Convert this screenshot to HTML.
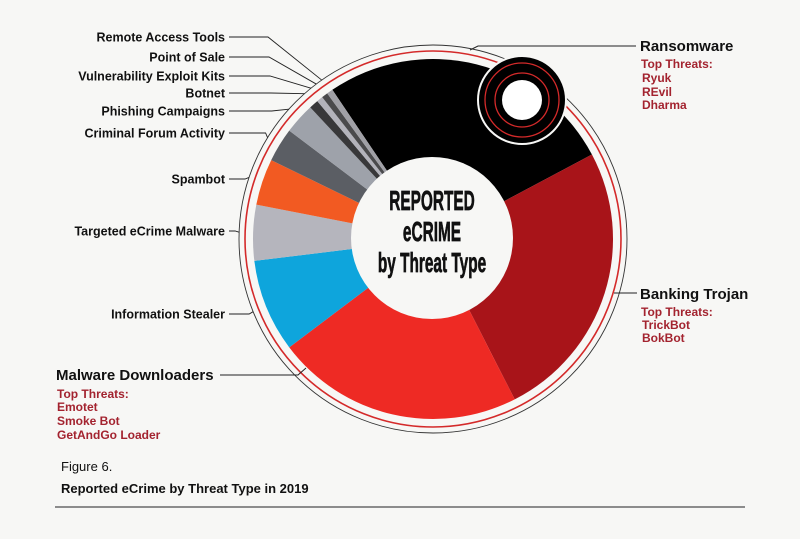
<!DOCTYPE html>
<html><head><meta charset="utf-8"><style>
html,body{margin:0;padding:0;background:#f7f7f5;}
body{width:800px;height:534px;overflow:hidden;font-family:"Liberation Sans",sans-serif;}
svg text{font-family:"Liberation Sans",sans-serif;}
</style></head><body>
<svg id="chart" width="800" height="534" viewBox="0 0 800 534" xmlns="http://www.w3.org/2000/svg">
<rect width="800" height="534" fill="#f7f7f5"/>
<g id="slices"></g>
<circle cx="433" cy="239" r="188" fill="none" stroke="#d42a2a" stroke-width="1.6"/>
<circle cx="433" cy="239" r="194" fill="none" stroke="#333" stroke-width="0.9"/>
<circle cx="432" cy="238" r="81" fill="#f7f7f5"/>
<g font-weight="bold" fill="#111" stroke="#111" stroke-width="0.7" text-anchor="middle">
<text x="432" y="210" font-size="28" transform="translate(432 0) scale(0.55 1) translate(-432 0)">REPORTED</text>
<text x="432" y="241" font-size="28" transform="translate(432 0) scale(0.55 1) translate(-432 0)">eCRIME</text>
<text x="432" y="272" font-size="28" transform="translate(432 0) scale(0.55 1) translate(-432 0)">by Threat Type</text>
</g>
<g>
<circle cx="522" cy="100" r="44" fill="#000" stroke="#f7f7f5" stroke-width="2"/>
<circle cx="522" cy="100" r="37" fill="none" stroke="#d42a2a" stroke-width="1.3"/>
<circle cx="522" cy="100" r="27" fill="none" stroke="#d42a2a" stroke-width="1.3"/>
<circle cx="522" cy="100" r="20" fill="#fff"/>
</g>
<g id="labels" font-size="12.5" font-weight="bold" fill="#111"></g>
<g>
<polyline points="470,50 478,46 636,46" fill="none" stroke="#222" stroke-width="1"/>
<text x="640" y="51" font-size="15" font-weight="bold" fill="#111">Ransomware</text>
<g font-size="12" font-weight="bold" fill="#a3232f">
<text x="641" y="68">Top Threats:</text><text x="642" y="82">Ryuk</text><text x="642" y="96">REvil</text><text x="642" y="109">Dharma</text></g>
</g>
<g>
<line x1="614" y1="293" x2="637" y2="293" stroke="#222" stroke-width="1"/>
<text x="640" y="299" font-size="15" font-weight="bold" fill="#111">Banking Trojan</text>
<g font-size="12" font-weight="bold" fill="#a3232f">
<text x="641" y="316">Top Threats:</text><text x="642" y="329">TrickBot</text><text x="642" y="342">BokBot</text></g>
</g>
<g>
<polyline points="220,375 298,375 306,368" fill="none" stroke="#222" stroke-width="1"/>
<text x="56" y="380" font-size="15" font-weight="bold" fill="#111">Malware Downloaders</text>
<g font-size="12" font-weight="bold" fill="#a3232f">
<text x="57" y="398">Top Threats:</text><text x="57" y="411">Emotet</text><text x="57" y="425">Smoke Bot</text><text x="57" y="439">GetAndGo Loader</text></g>
</g>
<text x="61" y="471" font-size="13" fill="#111">Figure 6.</text>
<text x="61" y="493" font-size="13" font-weight="bold" fill="#111">Reported eCrime by Threat Type in 2019</text>
<line x1="55" y1="507" x2="745" y2="507" stroke="#222" stroke-width="1"/>
</svg>
<script>
const categories = ["Ransomware","Banking Trojan","Malware Downloaders","Information Stealer","Targeted eCrime Malware","Spambot","Criminal Forum Activity","Phishing Campaigns","Botnet","Vulnerability Exploit Kits","Point of Sale","Remote Access Tools"];
const values = [96,91,80,30,18,15,11,10,3,2,2,2];
const colors = ["#000000","#a81419","#ee2a24","#0ea5dc","#b5b5bd","#f25a22","#5b5e64","#9ea2aa","#38383a","#b3b3bb","#4a4a4c","#a0a0a6"];
const leftLabelY = {"Remote Access Tools":37,"Point of Sale":57,"Vulnerability Exploit Kits":76,"Botnet":93,"Phishing Campaigns":111,"Criminal Forum Activity":133,"Spambot":179,"Targeted eCrime Malware":231,"Information Stealer":314};
const NS="http://www.w3.org/2000/svg";
const cx=433, cy=239, R=180, startDeg=-34;
const total=values.reduce((a,b)=>a+b,0);
function angleOf(v){return startDeg + v/total*360;}
function pt(deg,r){const a=deg*Math.PI/180;return [cx+r*Math.sin(a), cy-r*Math.cos(a)];}
const g=document.getElementById('slices');
let acc=0;
const mids={};
values.forEach((v,i)=>{
  const a0=angleOf(acc), a1=angleOf(acc+v); acc+=v;
  mids[categories[i]]=(a0+a1)/2;
  const p0=pt(a0,R), p1=pt(a1,R);
  const large=(a1-a0)>180?1:0;
  const p=document.createElementNS(NS,'path');
  p.setAttribute('d',`M${cx},${cy} L${p0[0]},${p0[1]} A${R},${R} 0 ${large} 1 ${p1[0]},${p1[1]} Z`);
  p.setAttribute('fill',colors[i]);
  
  
  g.appendChild(p);
});
const lg=document.getElementById('labels');
Object.keys(leftLabelY).forEach(name=>{
  const y=leftLabelY[name];
  const t=document.createElementNS(NS,'text');
  t.setAttribute('x',225); t.setAttribute('y',y+4.5); t.setAttribute('text-anchor','end');
  t.textContent=name;
  
  
  lg.appendChild(t);
  const end=pt(mids[name],194);
  const small = y<140;
  const l=document.createElementNS(NS,'polyline');
  const kx = small ? 268 + (y-37)*0.05 : end[0]-4;
  l.setAttribute('points', `229,${y} ${Math.min(kx,end[0]-2)},${y} ${end[0]},${end[1]}`);
  l.setAttribute('fill','none'); l.setAttribute('stroke','#222'); l.setAttribute('stroke-width','0.9');
  
  
  lg.appendChild(l);
});
</script>
</body></html>
